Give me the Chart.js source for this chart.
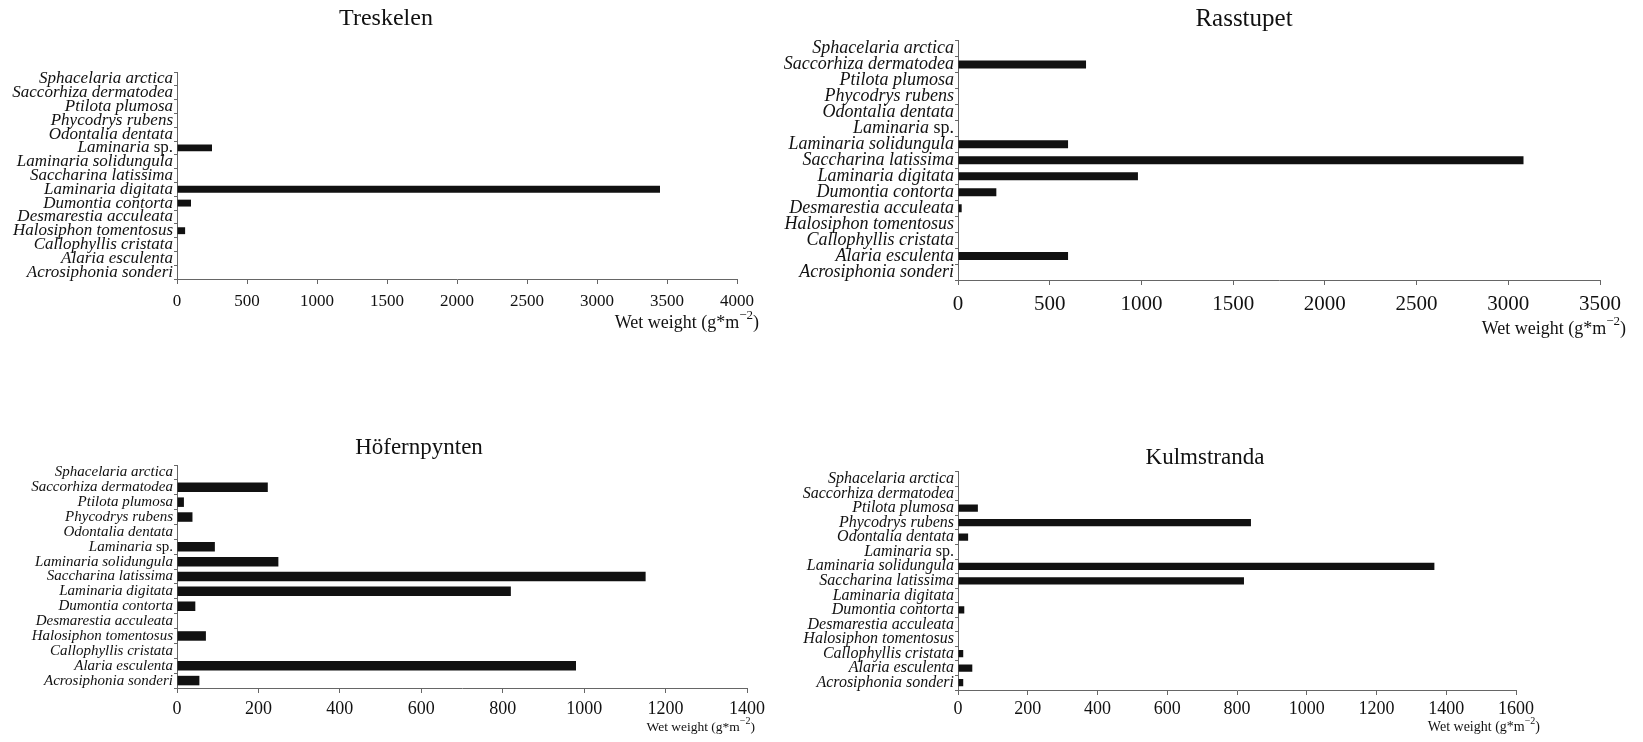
<!DOCTYPE html>
<html><head><meta charset="utf-8">
<script src="https://cdn.jsdelivr.net/npm/chart.js@4.4.1/dist/chart.umd.min.js"></script>
<style>
html,body{margin:0;padding:0;background:#fff;overflow:hidden;width:1643px;height:742px;position:relative;}
canvas{position:absolute;}
</style></head><body>
<canvas id="c1" width="772" height="340" style="left:0px;top:0px"></canvas>
<canvas id="c2" width="948" height="340" style="left:770px;top:0px"></canvas>
<canvas id="c3" width="838" height="332" style="left:0px;top:410px"></canvas>
<canvas id="c4" width="810" height="332" style="left:800px;top:410px"></canvas>
<script>
// ---- data ----
const species = ['Sphacelaria arctica','Saccorhiza dermatodea','Ptilota plumosa','Phycodrys rubens','Odontalia dentata','Laminaria sp.','Laminaria solidungula','Saccharina latissima','Laminaria digitata','Dumontia contorta','Desmarestia acculeata','Halosiphon tomentosus','Callophyllis cristata','Alaria esculenta','Acrosiphonia sonderi'];
const treskelen    = [0, 0, 0, 0, 0, 250, 0, 0, 3450, 100, 0, 58, 0, 0, 0];
const rasstupet    = [0, 698, 0, 0, 0, 0, 600, 3083, 981, 209, 20, 0, 0, 600, 0];
const hofernpynten = [0, 223, 17, 38, 0, 93, 249, 1151, 820, 45, 0, 71, 0, 980, 55];
const kulmstranda  = [0, 0, 57, 840, 29, 0, 1366, 820, 0, 18, 0, 0, 15, 41, 15];
const titles = ['Treskelen', 'Rasstupet', 'Höfernpynten', 'Kulmstranda'];
const xMax = [4000, 3500, 1400, 1600];
const xStep = [500, 500, 200, 200];
const axisTitleText = 'Wet weight (g*m';
const axisTitleSup = '\u22122';

const FAMILY = '"Liberation Serif", "Times New Roman", serif';
const INK = '#111';
const AXIS = '#666';

// axis title with superscript, anchored to the chart area
const axisNote = {
  id: 'axisNote',
  afterDraw(chart, args, opts) {
    const {ctx, chartArea} = chart;
    const x = chartArea.right + opts.dx;
    const y = chartArea.bottom + opts.dy;
    const main = opts.size + 'px ' + FAMILY;
    const sup = Math.round(opts.size * 0.72) + 'px ' + FAMILY;
    ctx.save();
    ctx.fillStyle = INK;
    ctx.textBaseline = 'middle';
    ctx.textAlign = 'left';
    ctx.font = main;
    const w1 = ctx.measureText(axisTitleText).width;
    const w3 = ctx.measureText(')').width;
    ctx.font = sup;
    const w2 = ctx.measureText(axisTitleSup).width;
    let cx = x - (w1 + w2 + w3);
    ctx.font = main; ctx.fillText(axisTitleText, cx, y); cx += w1;
    ctx.font = sup; ctx.fillText(axisTitleSup, cx, y - opts.size * 0.4); cx += w2;
    ctx.font = main; ctx.fillText(')', cx, y);
    ctx.restore();
  }
};

// chart title centred on the canvas
const panelTitle = {
  id: 'panelTitle',
  afterDraw(chart, args, opts) {
    const ctx = chart.ctx;
    ctx.save();
    ctx.fillStyle = INK;
    ctx.textAlign = 'center';
    ctx.textBaseline = 'middle';
    ctx.font = opts.size + 'px ' + FAMILY;
    ctx.fillText(opts.text, chart.width / 2, opts.y);
    ctx.restore();
  }
};

// category labels: italic genus/species names, upright "sp."
const speciesLabels = {
  id: 'speciesLabels',
  afterDraw(chart, args, opts) {
    const s = chart.scales.y;
    const ctx = chart.ctx;
    ctx.save();
    ctx.fillStyle = INK;
    ctx.textBaseline = 'middle';
    ctx.textAlign = 'right';
    const italic = 'italic ' + opts.size + 'px ' + FAMILY;
    const upright = opts.size + 'px ' + FAMILY;
    const x0 = s.right - 4;
    chart.data.labels.forEach((label, i) => {
      const y = s.getPixelForTick(i);
      const m = label.match(/^(.*) sp\.$/);
      if (m) {
        ctx.font = upright;
        ctx.fillText('sp.', x0, y);
        const w = ctx.measureText(' sp.').width;
        ctx.font = italic;
        ctx.fillText(m[1], x0 - w, y);
      } else {
        ctx.font = italic;
        ctx.fillText(label, x0, y);
      }
    });
    ctx.restore();
  }
};

function make(id, idx, values, cfg) {
  return new Chart(document.getElementById(id), {
    type: 'bar',
    data: {
      labels: species,
      datasets: [{
        data: values,
        backgroundColor: INK,
        borderWidth: 0,
        barPercentage: cfg.bar,
        categoryPercentage: 1.0
      }]
    },
    plugins: [axisNote, panelTitle, speciesLabels],
    options: {
      indexAxis: 'y',
      responsive: false,
      animation: false,
      events: [],
      layout: { padding: { left: 0, top: cfg.top, bottom: 0, right: cfg.pr } },
      plugins: {
        legend: { display: false },
        tooltip: { enabled: false },
        title: { display: false },
        panelTitle: { text: titles[idx], size: cfg.tSize, y: cfg.tY },
        speciesLabels: { size: cfg.ySize },
        axisNote: { dx: cfg.adx, dy: cfg.ady, size: cfg.aSize }
      },
      scales: {
        y: {
          type: 'category',
          offset: true,
          afterFit(s) { s.width = cfg.yw; },
          grid: { display: true, drawOnChartArea: false, drawTicks: true, tickLength: 3, offset: true, color: AXIS, lineWidth: 1 },
          border: { display: true, color: AXIS, width: 1 },
          ticks: { display: false, autoSkip: false }
        },
        x: {
          type: 'linear',
          min: 0,
          max: xMax[idx],
          afterFit(s) { s.height = cfg.xh; },
          grid: { display: true, drawOnChartArea: false, drawTicks: true, tickLength: 5, color: AXIS, lineWidth: 1 },
          border: { display: true, color: AXIS, width: 1 },
          ticks: { stepSize: xStep[idx], autoSkip: false, maxRotation: 0, padding: cfg.xp, color: INK,
                   callback: (v) => String(v),
                   font: { family: FAMILY, size: cfg.xSize, lineHeight: 1.2 } }
        }
      }
    }
  });
}

make('c1', 0, treskelen,    { top: 72,   yw: 177, pr: 35,  xh: 61, tSize: 24, tY: 19,   bar: 0.5,  ySize: 17, xSize: 17, xp: 7, adx: 22, ady: 44, aSize: 18 });
make('c2', 1, rasstupet,    { top: 40.5, yw: 188, pr: 118, xh: 60, tSize: 25, tY: 19,   bar: 0.5,  ySize: 18, xSize: 21, xp: 7, adx: 26, ady: 49, aSize: 18 });
make('c3', 2, hofernpynten, { top: 55,   yw: 177, pr: 91,  xh: 54, tSize: 23, tY: 38,   bar: 0.64, ySize: 15, xSize: 18, xp: 5, adx: 8,  ady: 39, aSize: 13.5 });
make('c4', 3, kulmstranda,  { top: 61.7, yw: 158, pr: 94,  xh: 52, tSize: 23, tY: 47.5, bar: 0.5,  ySize: 16, xSize: 18, xp: 3, adx: 24, ady: 37, aSize: 14 });
</script>
</body></html>
